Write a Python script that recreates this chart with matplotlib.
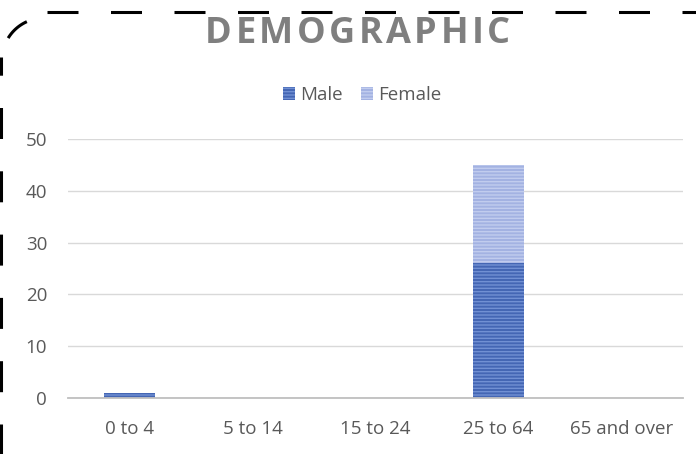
import matplotlib.pyplot as plt
from matplotlib.lines import Line2D
import numpy as np

# Data
categories = ["0 to 4", "5 to 14", "15 to 24", "25 to 64", "65 and over"]
male = [1, 0, 0, 26, 0]
female = [0, 0, 0, 19, 0]
yticks = [0, 10, 20, 30, 40, 50]
title = "DEMOGRAPHIC"

male_face, male_hatch = "#4466b4", "#7190d3"
female_face, female_hatch = "#a3b2e2", "#c1ccee"
text_grey = "#595959"

plt.rcParams['font.family'] = ['Open Sans', 'DejaVu Sans']
plt.rcParams['lines.scale_dashes'] = False

W, H = 696, 454
fig = plt.figure(figsize=(W / 100, H / 100), dpi=100)
ax = fig.add_axes([68 / W, 56 / H, 615 / W, 259 / H])

x = np.arange(len(categories))
w = 0.41
ax.bar(x, male, w, color=male_face, edgecolor=male_hatch, hatch="-----", linewidth=0, label="Male")
ax.bar(x, female, w, bottom=male, color=female_face, edgecolor=female_hatch, hatch="-----",
       linewidth=0, label="Female")

ax.set_xlim(-0.5, len(categories) - 0.5)
ax.set_ylim(0, 50)
ax.set_yticks(yticks)
ax.set_xticks(x)
ax.set_xticklabels(categories)
ax.tick_params(axis="both", length=0, labelsize=13.5, colors=text_grey)
ax.tick_params(axis="x", pad=16)
ax.tick_params(axis="y", pad=15)

ax.grid(axis="y", color="#d9d9d9", linewidth=1)
ax.set_axisbelow(True)
for side in ["top", "right", "left"]:
    ax.spines[side].set_visible(False)
ax.spines["bottom"].set_color("#bfbfbf")
ax.spines["bottom"].set_linewidth(1.3)

# Title with wide letter spacing
renderer = fig.canvas.get_renderer()
letters = []
for ch in title:
    t = fig.text(0, 1 - 34 / H, ch, ha="left", va="center", fontsize=26,
                 fontweight="bold", color="#7f7f7f")
    letters.append((t, t.get_window_extent(renderer).width))
left, right = 205, 510
gap = (right - left - sum(wd for _, wd in letters)) / (len(letters) - 1)
xpos = left
for t, wd in letters:
    t.set_x(xpos / W)
    xpos += wd + gap

leg = fig.legend(loc="center", bbox_to_anchor=(362 / W, 1 - 95 / H), ncol=2, frameon=False,
                 fontsize=13.5, handlelength=0.65, handleheight=0.65, handletextpad=0.25,
                 columnspacing=1.0)
for t in leg.get_texts():
    t.set_color(text_grey)

# Dashed border: left edge, rounded corner piece, top edge
def px(xs, ys):
    return [v / W for v in xs], [1 - v / H for v in ys]

lw = 2.2
on = 31 * 0.72
off_l = 32.3 * 0.72
off_t = 32.5 * 0.72
fig.add_artist(Line2D(*px([1, 1], [469, 57]), transform=fig.transFigure, color="black",
                      linewidth=lw, dashes=(on, off_l)))
fig.add_artist(Line2D(*px([47, 720], [11.5, 11.5]), transform=fig.transFigure, color="black",
                      linewidth=lw, dashes=(on, off_t)))
ang = np.linspace(np.arctan2(-22, -36), np.arctan2(-38, -17), 20)
fig.add_artist(Line2D(*px(44 + 42 * np.cos(ang), 60 + 42 * np.sin(ang)),
                      transform=fig.transFigure, color="black", linewidth=lw,
                      solid_capstyle="butt"))

fig.savefig("out.png", dpi=100)
